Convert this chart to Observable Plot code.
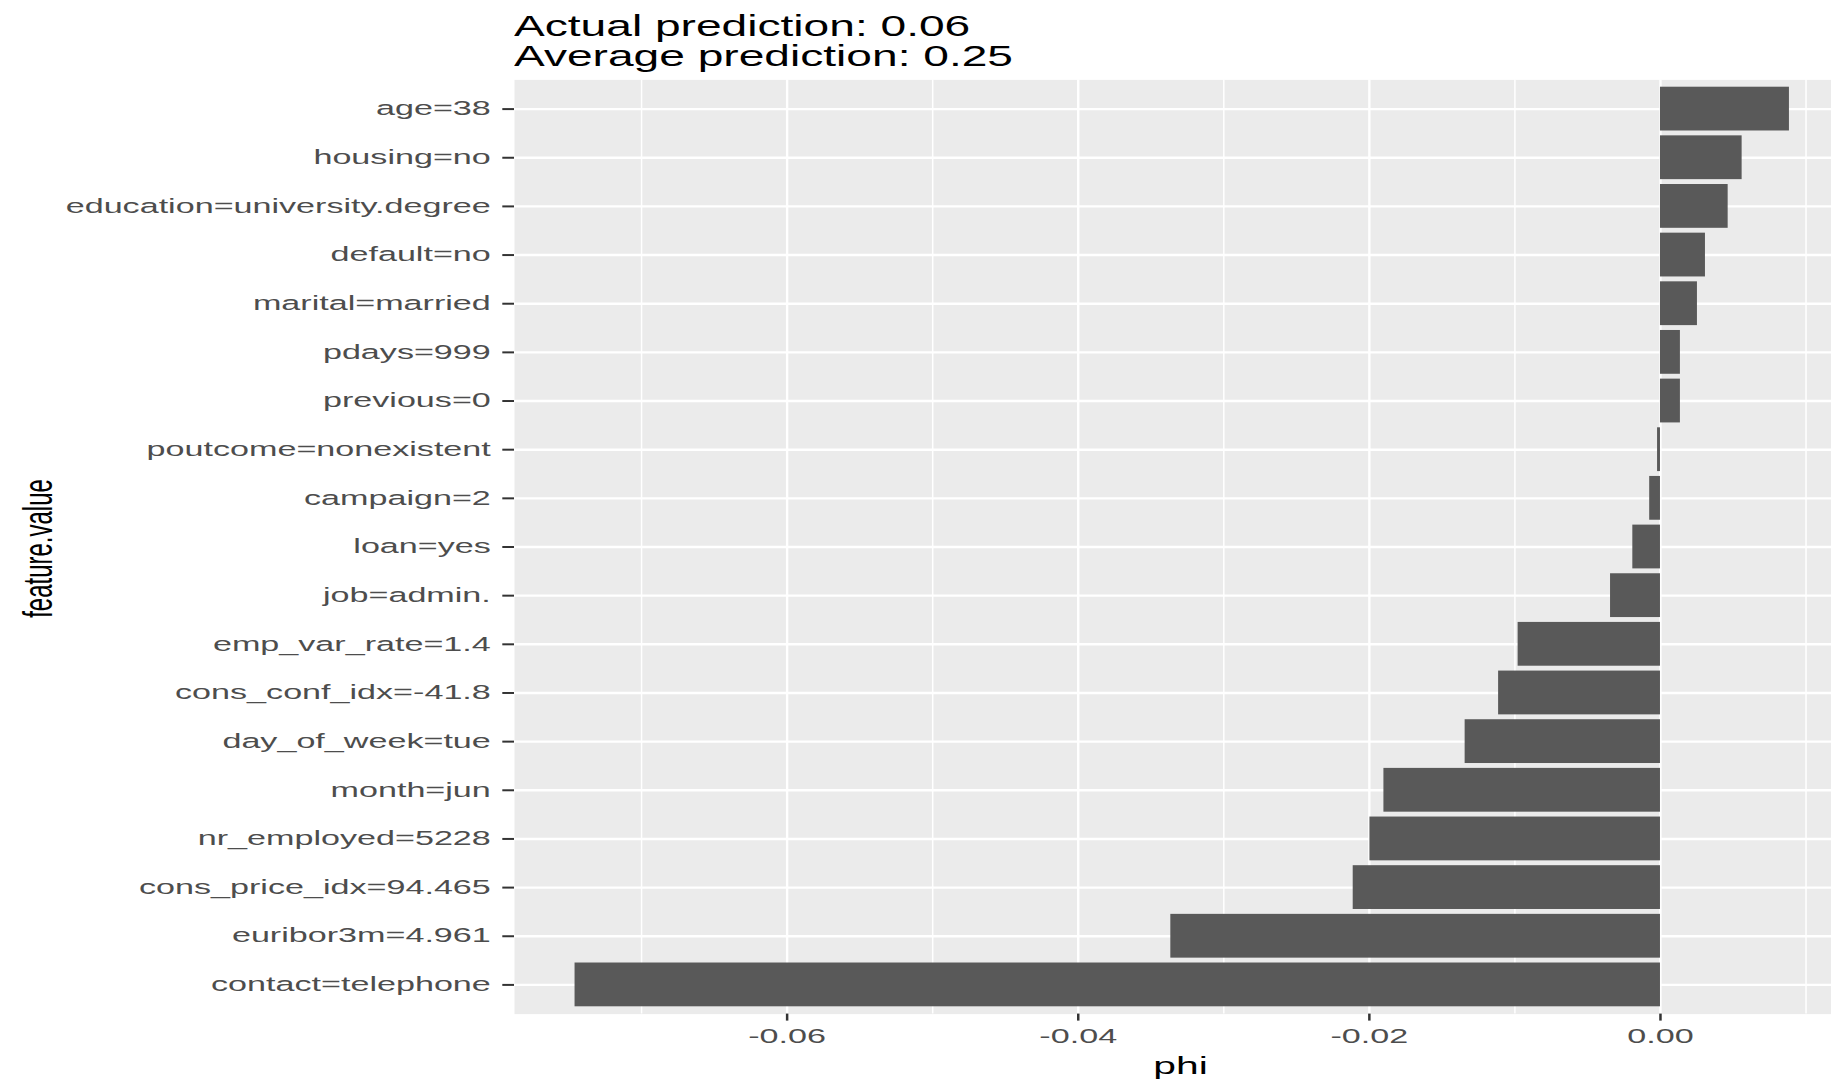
<!DOCTYPE html>
<html>
<head>
<meta charset="utf-8">
<script src="https://cdn.jsdelivr.net/npm/d3@7"></script>
<script src="https://cdn.jsdelivr.net/npm/@observablehq/plot@0.6"></script>
<style>
  html, body { margin: 0; padding: 0; background: white; overflow: hidden; }
  #wrap { position: relative; width: 1831px; height: 1083px; }
  .title-line { position: absolute; left: 514px; font-family: "Liberation Sans", Arial, sans-serif;
    font-size: 29px; line-height: 20px; height: 20px; color: #000; white-space: nowrap;
    transform: scaleX(1.59); transform-origin: left center; }
</style>
</head>
<body>
<div id="wrap">
  <div class="title-line" style="top:16px">Actual prediction: 0.06</div>
  <div class="title-line" style="top:45.5px">Average prediction: 0.25</div>
  <div id="chart"></div>
</div>
<script>
// Feature labels, top to bottom
const features = [
  "age=38", "housing=no", "education=university.degree", "default=no",
  "marital=married", "pdays=999", "previous=0", "poutcome=nonexistent",
  "campaign=2", "loan=yes", "job=admin.", "emp_var_rate=1.4",
  "cons_conf_idx=-41.8", "day_of_week=tue", "month=jun", "nr_employed=5228",
  "cons_price_idx=94.465", "euribor3m=4.961", "contact=telephone"
];
// Shapley values (phi)
const phi = [
  0.00886, 0.00561, 0.00465, 0.00309,
  0.00254, 0.00137, 0.00137, -0.0002,
  -0.00074, -0.0019, -0.00343, -0.00978,
  -0.01112, -0.01342, -0.0190, -0.01996,
  -0.02111, -0.03364, -0.07457
];
const xTicks = [-0.06, -0.04, -0.02, 0.00];
const xTickLabels = ["-0.06", "-0.04", "-0.02", "0.00"];
const xMinorTicks = [-0.07, -0.05, -0.03, -0.01, 0.01];

const data = features.map((f, i) => ({feature: f, phi: phi[i]}));

const chart = Plot.plot({
  width: 1831,
  height: 1083,
  marginTop: 79.4,
  marginBottom: 69.4,
  marginLeft: 514,
  marginRight: 0,
  style: {fontFamily: "'Liberation Sans', Arial, sans-serif", background: "white", overflow: "visible"},
  x: {domain: [-0.07873, 0.01175]},
  y: {domain: features, paddingInner: 0.1, paddingOuter: 0.15, round: false},
  marks: [
    Plot.frame({fill: "#EBEBEB", stroke: null}),
    Plot.gridX({ticks: xMinorTicks, stroke: "white", strokeOpacity: 1, strokeWidth: 1.5}),
    Plot.gridX({ticks: xTicks, stroke: "white", strokeOpacity: 1, strokeWidth: 2.4}),
    Plot.gridY({stroke: "white", strokeOpacity: 1, strokeWidth: 2.4}),
    Plot.barX(data, {x: "phi", y: "feature", fill: "#595959"}),
    Plot.axisY({label: null, tickSize: 11.7, tickPadding: 12, fontSize: 19.5,
      fill: "#4D4D4D", stroke: "#333333", strokeWidth: 2}),
    Plot.axisX({label: null, ticks: xTicks, tickFormat: d => xTickLabels[xTicks.indexOf(d)],
      tickSize: 7, tickPadding: 8.4, fontSize: 19.5, fill: "#4D4D4D", stroke: "#333333", strokeWidth: 2.5}),
    Plot.text(["phi"], {text: d => d, frameAnchor: "bottom", textAnchor: "middle", dx: 7.5, dy: 59.7,
      lineAnchor: "bottom", fontSize: 24, fill: "black"}),
    Plot.text(["feature.value"], {text: d => d, frameAnchor: "left", textAnchor: "middle", dx: -462.3, dy: 1.5,
      rotate: -90, lineAnchor: "bottom", fontSize: 24, fill: "black"})
  ]
});

document.getElementById("chart").appendChild(chart);

// Horizontally stretch all text glyphs (the reference renders text wide)
chart.querySelectorAll("text").forEach(t => {
  const fs = parseFloat(t.getAttribute("font-size") || t.parentNode.getAttribute("font-size") || "19.5");
  const s = fs >= 23 ? 1.70 : 1.75;
  const tr = t.getAttribute("transform");
  if (tr && /translate\([^)]*\)/.test(tr)) {
    t.setAttribute("transform", tr.replace(/(translate\([^)]*\))/, `$1 scale(${s},1)`));
  } else {
    const x = parseFloat(t.getAttribute("x") || "0");
    t.setAttribute("transform", (tr ? tr + " " : "") + `translate(${x},0) scale(${s},1) translate(${-x},0)`);
  }
});
</script>
</body>
</html>
